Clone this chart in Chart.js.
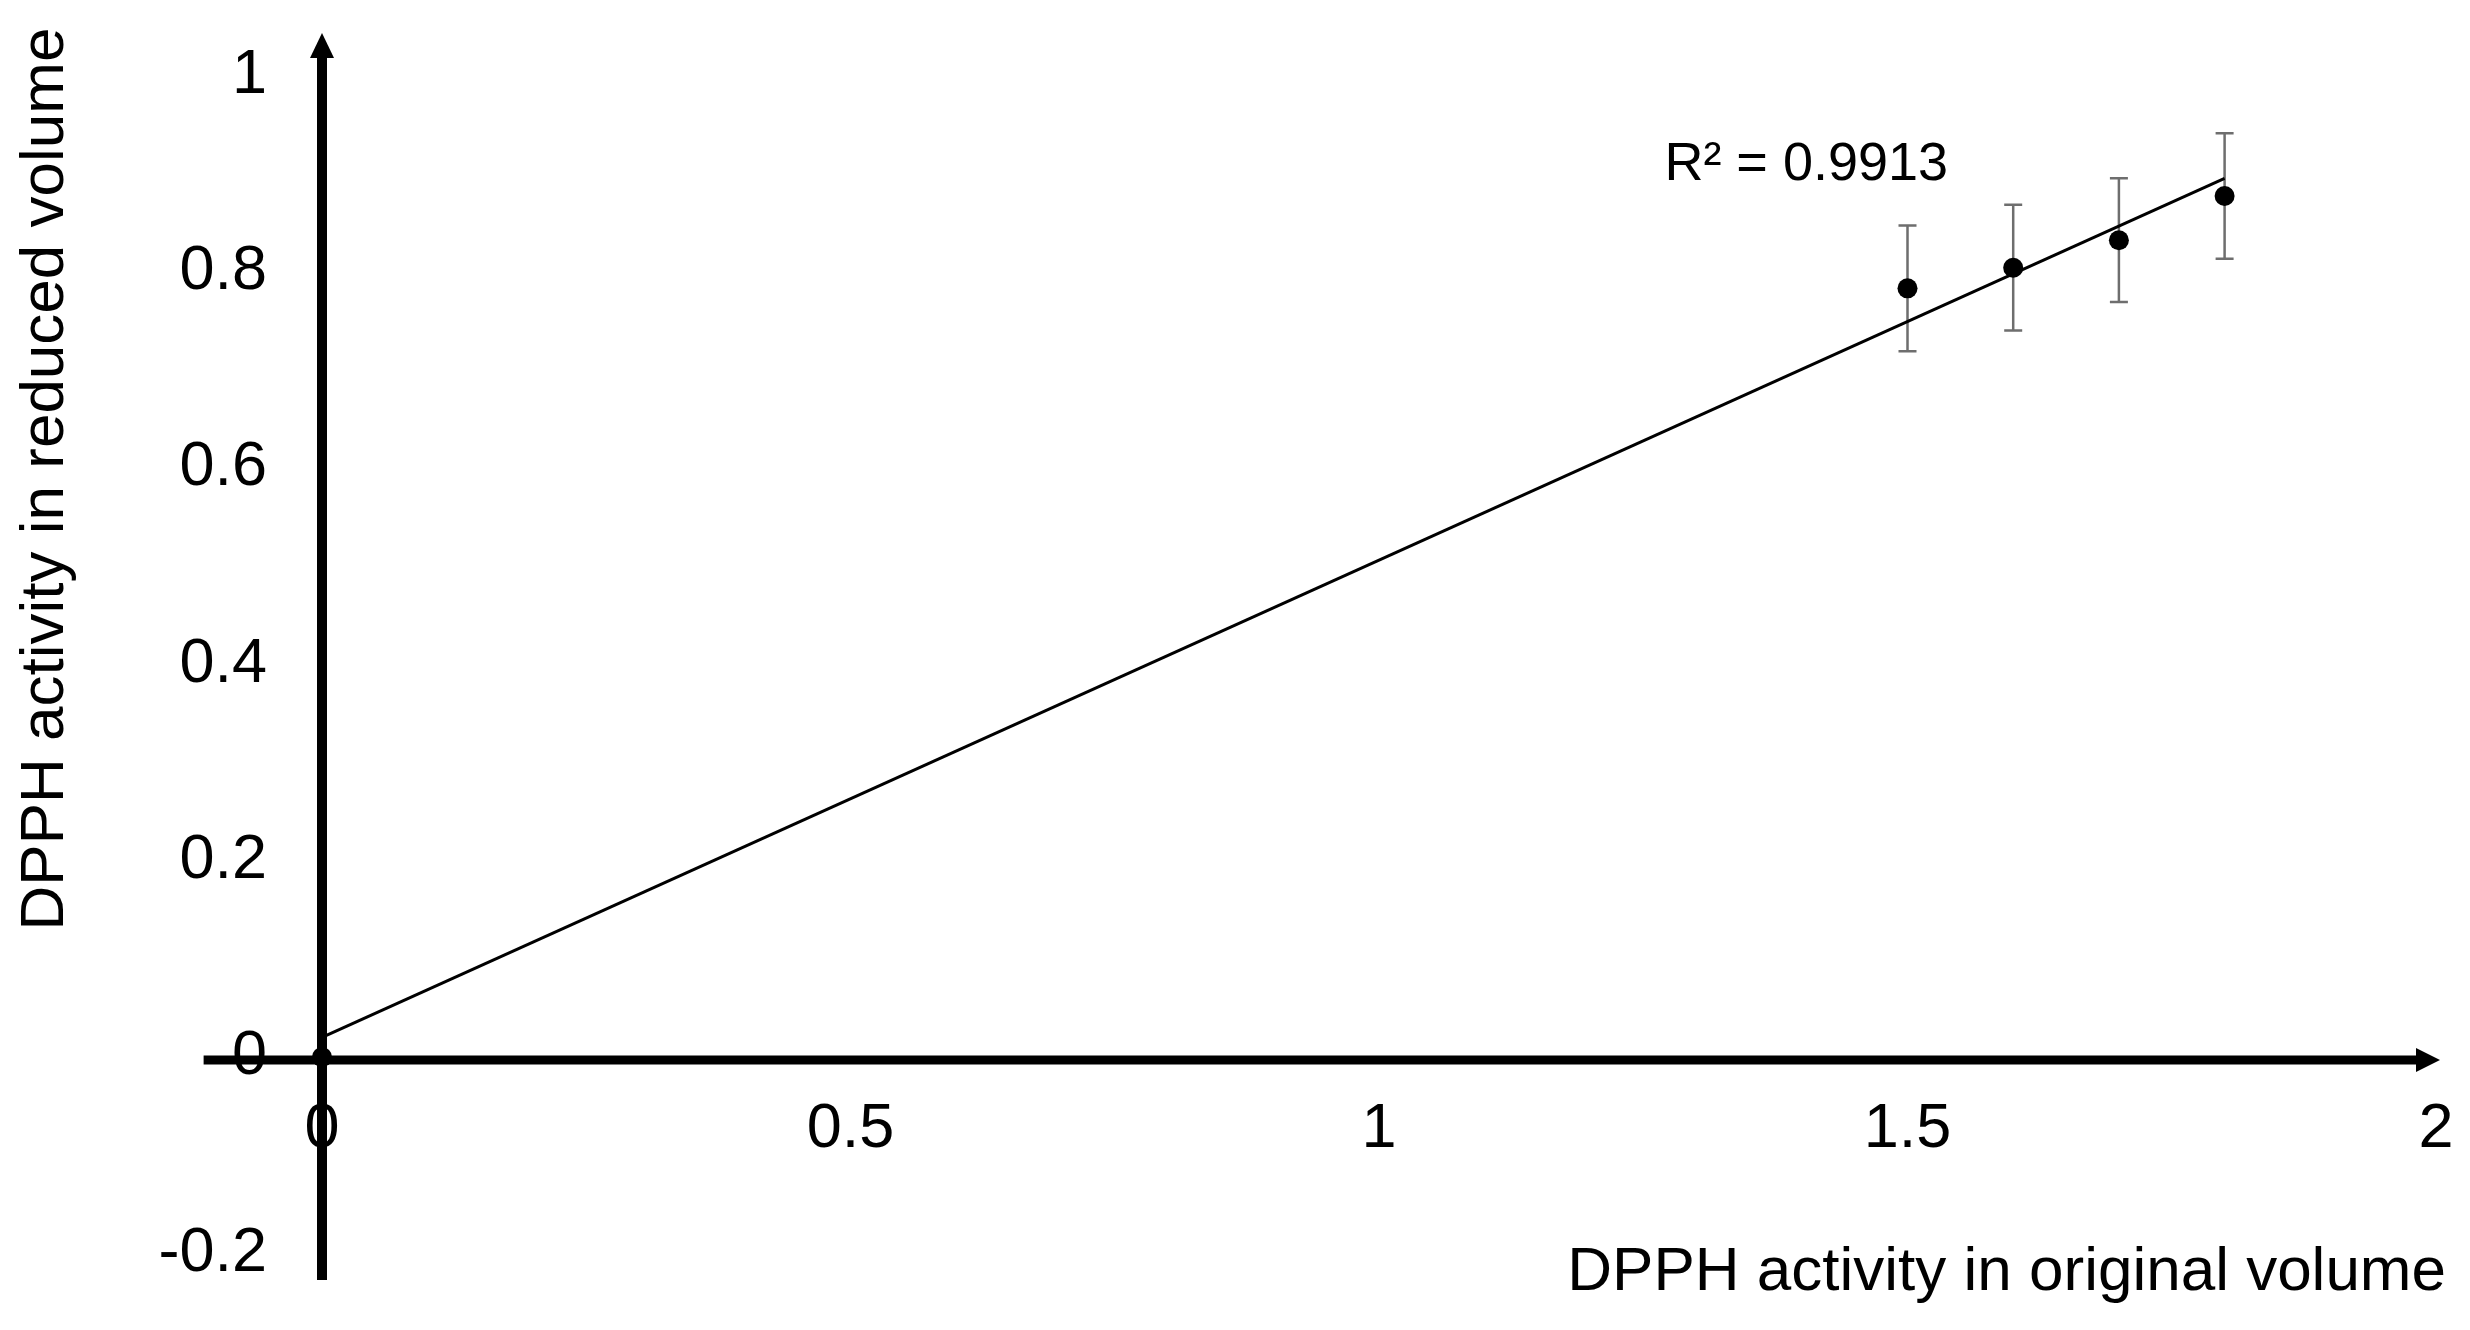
<!DOCTYPE html>
<html>
<head>
<meta charset="utf-8">
<title>DPPH activity</title>
<script src="https://cdn.jsdelivr.net/npm/chart.js@4.4.1/dist/chart.umd.min.js"></script>
<style>
  html, body { margin: 0; padding: 0; background: #fff; }
  #wrap { width: 2470px; height: 1330px; position: relative; }
</style>
</head>
<body>
<div id="wrap"><canvas id="chartDpph"></canvas></div>
<script>
// measured points (original volume vs reduced volume)
const xValues = [0, 1.5, 1.6, 1.7, 1.8];
const yValues = [0, 0.783, 0.804, 0.832, 0.877];
const yErrors = [0, 0.064, 0.064, 0.063, 0.064];

// linear trendline as drawn in the figure
const trendX = [0, 1.8];
const trendY = [0.020, 0.895];

const xTicks = [0, 0.5, 1, 1.5, 2];
const yTicks = [-0.2, 0, 0.2, 0.4, 0.6, 0.8, 1];

const xTitle = 'DPPH activity in original volume';
const yTitle = 'DPPH activity in reduced volume';
const fitLabel = 'R² = 0.9913';

const FONT = "'Liberation Sans', Arial, Helvetica, sans-serif";
Chart.defaults.font.family = FONT;
Chart.defaults.color = '#000';

// axes crossing at the origin, with arrow heads, plus error bars
const crossAxes = {
    id: 'crossAxes',
    beforeDatasetsDraw(chart) {
        const { ctx, chartArea, scales: { x, y } } = chart;
        const x0 = x.getPixelForValue(0);
        const y0 = y.getPixelForValue(0) + 3;

        ctx.save();
        ctx.strokeStyle = '#000';
        ctx.fillStyle = '#000';
        ctx.lineWidth = 10;

        // vertical axis
        ctx.beginPath();
        ctx.moveTo(x0, chartArea.bottom + 2);
        ctx.lineTo(x0, chartArea.top + 20);
        ctx.stroke();
        ctx.beginPath();
        ctx.moveTo(x0, chartArea.top - 3);
        ctx.lineTo(x0 - 12, chartArea.top + 22);
        ctx.lineTo(x0 + 12, chartArea.top + 22);
        ctx.closePath();
        ctx.fill();

        // horizontal axis
        const xStart = x.getPixelForValue(-0.112);
        const tip = chartArea.right + 4;
        ctx.lineWidth = 9;
        ctx.beginPath();
        ctx.moveTo(xStart, y0);
        ctx.lineTo(tip - 20, y0);
        ctx.stroke();
        ctx.beginPath();
        ctx.moveTo(tip, y0);
        ctx.lineTo(tip - 24, y0 - 12);
        ctx.lineTo(tip - 24, y0 + 12);
        ctx.closePath();
        ctx.fill();

        // error bars
        ctx.strokeStyle = '#6e6e6e';
        ctx.lineWidth = 2.5;
        xValues.forEach((xv, i) => {
            if (!yErrors[i]) return;
            const px = x.getPixelForValue(xv);
            const top = y.getPixelForValue(yValues[i] + yErrors[i]);
            const bot = y.getPixelForValue(yValues[i] - yErrors[i]);
            ctx.beginPath();
            ctx.moveTo(px, top); ctx.lineTo(px, bot);
            ctx.moveTo(px - 9, top); ctx.lineTo(px + 9, top);
            ctx.moveTo(px - 9, bot); ctx.lineTo(px + 9, bot);
            ctx.stroke();
        });
        ctx.restore();
    },
    afterDraw(chart) {
        const { ctx, chartArea, scales: { x, y } } = chart;
        ctx.save();
        ctx.fillStyle = '#000';

        // R² label next to the trendline end
        ctx.font = '54px ' + FONT;
        ctx.textAlign = 'left';
        ctx.textBaseline = 'alphabetic';
        ctx.fillText(fitLabel, x.getPixelForValue(1.27), y.getPixelForValue(0.893));

        // axis titles
        ctx.font = '62px ' + FONT;
        ctx.textAlign = 'right';
        ctx.textBaseline = 'middle';
        ctx.fillText(xTitle, chartArea.right + 10, 1273);

        ctx.translate(46, 479);
        ctx.rotate(-Math.PI / 2);
        ctx.textAlign = 'center';
        ctx.fillText(yTitle, 0, 0);
        ctx.restore();
    }
};

function noPadding(scale) {
    scale.paddingLeft = 0;
    scale.paddingRight = 0;
    scale.paddingTop = 0;
    scale.paddingBottom = 0;
}

const ctx = document.getElementById('chartDpph').getContext('2d');
new Chart(ctx, {
    type: 'scatter',
    data: {
        datasets: [
            {
                label: 'Trendline',
                data: trendX.map((v, i) => ({ x: v, y: trendY[i] })),
                showLine: true,
                borderColor: '#000',
                borderWidth: 3,
                pointRadius: 0,
                clip: false
            },
            {
                label: 'DPPH activity',
                data: xValues.map((v, i) => ({ x: v, y: yValues[i] })),
                backgroundColor: '#000',
                borderColor: '#000',
                borderWidth: 0,
                pointRadius: 10,
                clip: false
            }
        ]
    },
    options: {
        responsive: true,
        maintainAspectRatio: false,
        animation: false,
        layout: { padding: { left: 158, right: 34, top: 36, bottom: 52 } },
        scales: {
            x: {
                type: 'linear',
                position: { y: 0 },
                min: 0,
                max: 2,
                grid: { display: false, drawTicks: false },
                border: { display: false },
                afterBuildTicks: s => { s.ticks = xTicks.map(v => ({ value: v })); },
                afterFit: noPadding,
                ticks: {
                    padding: 35,
                    autoSkip: false,
                    maxRotation: 0,
                    font: { size: 63 },
                    callback: v => String(v)
                }
            },
            y: {
                type: 'linear',
                position: 'left',
                min: -0.225,
                max: 1.04,
                grid: { display: false, drawTicks: false },
                border: { display: false },
                afterBuildTicks: s => { s.ticks = yTicks.map(v => ({ value: v })); },
                afterFit: s => { s.width = 164; noPadding(s); },
                ticks: {
                    padding: 55,
                    autoSkip: false,
                    font: { size: 63 },
                    callback: v => String(v)
                }
            }
        },
        plugins: {
            legend: { display: false },
            tooltip: { enabled: false }
        }
    },
    plugins: [crossAxes]
});
</script>
</body>
</html>
